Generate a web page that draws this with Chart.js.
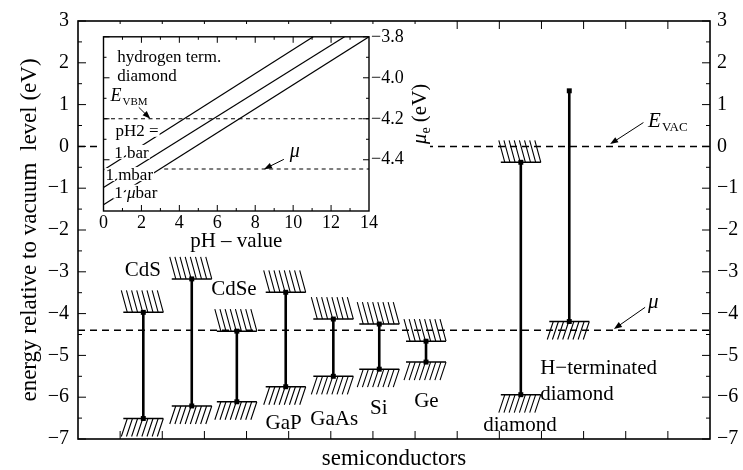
<!DOCTYPE html>
<html>
<head>
<meta charset="utf-8">
<script src="https://cdn.jsdelivr.net/npm/chart.js@4.4.0/dist/chart.umd.min.js"></script>
<style>
  html, body { margin: 0; padding: 0; background: #fff; }
  #wrap { position: relative; width: 743px; height: 470px; }
  #mainChart { position: absolute; left: 0; top: 0; }
  #insetChart { position: absolute; left: 98px; top: 24px; }
</style>
</head>
<body>
<div id="wrap">
  <canvas id="mainChart" width="743" height="470" style="width:743px;height:470px"></canvas>
  <canvas id="insetChart" width="332" height="228" style="width:332px;height:228px"></canvas>
</div>
<script>
const FONT = "'Liberation Serif', 'Times New Roman', serif";
Chart.defaults.font.family = FONT;
Chart.defaults.color = '#000';

// ===== main plot: band edges (eV vs vacuum level) =====
const semiPos = [1.55, 2.70, 3.77, 4.93, 6.06, 7.15, 8.26, 10.51, 11.66];
const condBand = [-3.97, -3.17, -4.42, -3.49, -4.13, -4.25, -4.66, -0.38, 1.33];
const valBand = [-6.51, -6.21, -6.11, -5.75, -5.50, -5.33, -5.16, -5.94, -4.19];
const condHatched = [true, true, true, true, true, true, true, true, false];
const levelVac = 0;
const levelMu = -4.4;

// material labels (data coordinates)
const labelText = ['CdS', 'CdSe', 'GaP', 'GaAs', 'Si', 'Ge', 'diamond', 'H\u2212terminated', 'diamond'];
const labelX = [1.54, 3.70, 4.88, 6.08, 7.14, 8.27, 10.49, 10.97, 10.97];
const labelY = [-2.98, -3.42, -6.63, -6.54, -6.27, -6.11, -6.68, -5.32, -5.94];
const labelAlign = ['center', 'center', 'center', 'center', 'center', 'center', 'center', 'left', 'left'];

// ===== inset: electrochemical potential vs pH =====
const phStart = [0, 0, 0];
const muStart = [-4.45, -4.535, -4.62];
const phEnd = [11.06, 12.71, 14.0];
const muEnd = [-3.8, -3.8, -3.8];
const levelVBM = -4.2;
const levelMuInset = -4.445;
const muInsetFrom = 3.2;

const insetText = ['hydrogen term.', 'diamond', 'pH2 =', '1 bar', '1 mbar', '1 \u03bcbar'];
const insetX = [0.73, 0.73, 0.63, 0.57, 0.10, 0.57];
const insetY = [-3.923, -4.014, -4.283, -4.391, -4.499, -4.585];

const minus = (s) => String(s).replace('-', '\u2212');

// ===== drawing helpers =====
function drawHatch(ctx, cx, y, up) {
  const x0 = cx - 20, w = 40, h = up ? 22 : 18, n = 8, slant = 6;
  ctx.lineWidth = 1.5;
  ctx.beginPath();
  ctx.moveTo(x0, y);
  ctx.lineTo(x0 + w, y);
  ctx.stroke();
  ctx.lineWidth = 1.1;
  ctx.beginPath();
  for (let i = 0; i < n; i++) {
    const xb = x0 + 4 + i * (w - 4) / (n - 1);
    ctx.moveTo(xb, y);
    ctx.lineTo(xb - slant, up ? y - h : y + h);
  }
  ctx.stroke();
}

function arrow(ctx, x1, y1, x2, y2) {
  const ang = Math.atan2(y2 - y1, x2 - x1), L = 8, W = 3;
  ctx.lineWidth = 1;
  ctx.beginPath();
  ctx.moveTo(x1, y1);
  ctx.lineTo(x2 - 5 * Math.cos(ang), y2 - 5 * Math.sin(ang));
  ctx.stroke();
  ctx.beginPath();
  ctx.moveTo(x2, y2);
  ctx.lineTo(x2 - L * Math.cos(ang) + W * Math.sin(ang), y2 - L * Math.sin(ang) - W * Math.cos(ang));
  ctx.lineTo(x2 - L * Math.cos(ang) - W * Math.sin(ang), y2 - L * Math.sin(ang) + W * Math.cos(ang));
  ctx.closePath();
  ctx.fill();
}

// text where μ is set in italic; optional white knock-out per word
function drawRich(ctx, str, x, y, size, knockout) {
  let cx = x;
  str.split(/( )/).forEach((word) => {
    if (!word) return;
    if (word === ' ') {
      ctx.font = size + 'px ' + FONT;
      cx += ctx.measureText(' ').width;
      return;
    }
    const parts = word.split(/(\u03bc)/).filter(Boolean);
    if (knockout) {
      let w = 0, asc = 0, desc = 0;
      parts.forEach((p) => {
        ctx.font = (p === '\u03bc' ? 'italic ' : '') + size + 'px ' + FONT;
        const m = ctx.measureText(p);
        w += m.width;
        asc = Math.max(asc, m.actualBoundingBoxAscent);
        desc = Math.max(desc, m.actualBoundingBoxDescent);
      });
      ctx.save();
      ctx.fillStyle = '#fff';
      ctx.fillRect(cx - 1, y - asc - 1, w + 2, asc + desc + 2);
      ctx.restore();
    }
    parts.forEach((p) => {
      ctx.font = (p === '\u03bc' ? 'italic ' : '') + size + 'px ' + FONT;
      ctx.fillText(p, cx, y);
      cx += ctx.measureText(p).width;
    });
  });
}

// E with a subscript
function drawSubscripted(ctx, main, sub, x, y, size, subSize, italic) {
  ctx.font = (italic ? 'italic ' : '') + size + 'px ' + FONT;
  ctx.fillText(main, x, y);
  const w = ctx.measureText(main).width;
  ctx.font = subSize + 'px ' + FONT;
  ctx.fillText(sub, x + w + 1, y + 4);
}

function drawFrame(ctx, a, xs, ys, xMajor, xMinor, yMajor, yMinor, majLen, minLen, frameW) {
  ctx.lineWidth = frameW;
  ctx.strokeRect(a.left, a.top, a.right - a.left, a.bottom - a.top);
  ctx.lineWidth = 1;
  ctx.beginPath();
  const tx = (v, len) => {
    const px = xs.getPixelForValue(v);
    ctx.moveTo(px, a.bottom); ctx.lineTo(px, a.bottom - len);
    ctx.moveTo(px, a.top); ctx.lineTo(px, a.top + len);
  };
  const ty = (v, len) => {
    const py = ys.getPixelForValue(v);
    ctx.moveTo(a.left, py); ctx.lineTo(a.left + len, py);
    ctx.moveTo(a.right, py); ctx.lineTo(a.right - len, py);
  };
  xMajor.forEach((v) => tx(v, majLen));
  xMinor.forEach((v) => tx(v, minLen));
  yMajor.forEach((v) => ty(v, majLen));
  yMinor.forEach((v) => ty(v, minLen));
  ctx.stroke();
}

const mids = (vals) => vals.slice(1).map((v, i) => (v + vals[i]) / 2);
const noGrid = { display: false, drawTicks: false, tickLength: 0 };

// ===== main chart =====
const mainDecor = {
  id: 'mainDecor',
  afterDatasetsDraw(chart) {
    const { ctx, chartArea: a, scales: { x, y } } = chart;
    ctx.save();
    ctx.strokeStyle = '#000';
    ctx.fillStyle = '#000';

    ctx.save();
    ctx.beginPath();
    ctx.rect(a.left, a.top, a.right - a.left, a.bottom - a.top);
    ctx.clip();
    semiPos.forEach((p, i) => {
      const px = x.getPixelForValue(p);
      if (condHatched[i]) drawHatch(ctx, px, y.getPixelForValue(condBand[i]), true);
      drawHatch(ctx, px, y.getPixelForValue(valBand[i]), false);
    });
    ctx.restore();

    // material names
    ctx.font = '21px ' + FONT;
    ctx.textBaseline = 'middle';
    labelText.forEach((t, i) => {
      ctx.textAlign = labelAlign[i];
      ctx.fillText(t, x.getPixelForValue(labelX[i]), y.getPixelForValue(labelY[i]));
    });

    // E_VAC and mu tags
    ctx.textAlign = 'left';
    ctx.textBaseline = 'alphabetic';
    drawSubscripted(ctx, 'E', 'VAC', x.getPixelForValue(13.53), y.getPixelForValue(0.476), 21, 13, true);
    arrow(ctx, x.getPixelForValue(13.42), y.getPixelForValue(0.571), x.getPixelForValue(12.63), y.getPixelForValue(0.055));
    ctx.font = 'italic 21px ' + FONT;
    ctx.fillText('\u03bc', x.getPixelForValue(13.53), y.getPixelForValue(-3.857));
    arrow(ctx, x.getPixelForValue(13.46), y.getPixelForValue(-3.85), x.getPixelForValue(12.72), y.getPixelForValue(-4.37));

    // frame with inward ticks
    const yMaj = y.ticks.map((t) => t.value);
    const xMaj = x.ticks.map((t) => t.value).filter((v) => v > x.min && v < x.max);
    drawFrame(ctx, a, x, y, xMaj, [], yMaj, mids(yMaj), 8, 4, 1.6);
    ctx.restore();
  },
};

const bandDatasets = semiPos.map((p, i) => ({
  data: [{ x: p, y: condBand[i] }, { x: p, y: valBand[i] }],
  showLine: true,
  borderColor: '#000',
  borderWidth: 2.6,
  pointStyle: 'rect',
  pointRadius: 3.5,
  pointBackgroundColor: '#000',
  pointBorderWidth: 0,
}));

const dashedLevel = (v, from, to, dash, width) => ({
  data: [{ x: from, y: v }, { x: to, y: v }],
  showLine: true,
  borderColor: '#000',
  borderWidth: width,
  borderDash: dash,
  pointRadius: 0,
});

const tickFont = { size: 20, family: FONT };

new Chart(document.getElementById('mainChart'), {
  type: 'scatter',
  data: {
    datasets: [
      dashedLevel(levelVac, 0, 15, [7, 5], 1.5),
      dashedLevel(levelMu, 0, 15, [7, 5], 1.5),
      ...bandDatasets,
    ],
  },
  options: {
    responsive: false,
    animation: false,
    layout: { padding: { top: 19, left: 0, right: 0, bottom: 0 } },
    plugins: { legend: { display: false }, tooltip: { enabled: false } },
    scales: {
      x: {
        type: 'linear',
        min: 0,
        max: 15,
        grid: noGrid,
        border: { display: false },
        ticks: { display: false, stepSize: 1 },
        title: { display: true, text: 'semiconductors', font: { size: 23, lineHeight: 1 }, padding: { top: 1, bottom: 0 } },
        afterFit: (s) => { s.height = 31; },
      },
      y: {
        position: 'left',
        min: -7,
        max: 3,
        grid: noGrid,
        border: { display: false },
        ticks: { stepSize: 1, padding: 9, font: tickFont, callback: (v) => minus(v) },
        title: { display: true, text: 'energy relative to vacuum  level (eV)', font: { size: 23, lineHeight: 1 }, padding: { top: 18, bottom: 0 } },
        afterFit: (s) => { s.width = 78; },
      },
      y2: {
        position: 'right',
        min: -7,
        max: 3,
        grid: noGrid,
        border: { display: false },
        ticks: { stepSize: 1, padding: 7, font: tickFont, callback: (v) => minus(v) },
        afterFit: (s) => { s.width = 33; },
      },
    },
  },
  plugins: [mainDecor],
});

// ===== inset chart =====
const insetDecor = {
  id: 'insetDecor',
  beforeDraw(chart) {
    const { ctx, width, height } = chart;
    ctx.save();
    ctx.fillStyle = '#fff';
    ctx.fillRect(0, 0, width, height);
    ctx.restore();
  },
  afterDatasetsDraw(chart) {
    const { ctx, chartArea: a, scales: { x, y2 } } = chart;
    ctx.save();
    ctx.strokeStyle = '#000';
    ctx.fillStyle = '#000';
    ctx.textAlign = 'left';
    ctx.textBaseline = 'alphabetic';

    insetText.forEach((t, i) => {
      drawRich(ctx, t, x.getPixelForValue(insetX[i]), y2.getPixelForValue(insetY[i]), 17, i >= 2);
    });

    drawSubscripted(ctx, 'E', 'VBM', x.getPixelForValue(0.37), y2.getPixelForValue(-4.115), 18, 11, true);
    arrow(ctx, x.getPixelForValue(1.86), y2.getPixelForValue(-4.144), x.getPixelForValue(2.47), y2.getPixelForValue(-4.2));
    ctx.font = 'italic 20px ' + FONT;
    ctx.fillText('\u03bc', x.getPixelForValue(9.82), y2.getPixelForValue(-4.388));
    arrow(ctx, x.getPixelForValue(9.51), y2.getPixelForValue(-4.398), x.getPixelForValue(8.46), y2.getPixelForValue(-4.446));

    const xMaj = x.ticks.map((t) => t.value);
    const yMaj = y2.ticks.map((t) => t.value);
    drawFrame(ctx, a, x, y2, xMaj.filter((v) => v > x.min && v < x.max), mids(xMaj), yMaj, mids(yMaj), 6, 3, 1.4);

    // right axis title: mu_e (eV), reading bottom to top
    ctx.save();
    ctx.translate(a.right + 50, (a.top + a.bottom) / 2 - 10);
    ctx.rotate(-Math.PI / 2);
    ctx.font = 'italic 21px ' + FONT;
    const wMu = ctx.measureText('\u03bc').width;
    ctx.font = '14px ' + FONT;
    const wE = ctx.measureText('e').width;
    ctx.font = '21px ' + FONT;
    const wRest = ctx.measureText(' (eV)').width;
    let cx = -(wMu + wE + wRest) / 2;
    ctx.font = 'italic 21px ' + FONT;
    ctx.fillText('\u03bc', cx, 7);
    cx += wMu;
    ctx.font = '14px ' + FONT;
    ctx.fillText('e', cx, 11);
    cx += wE;
    ctx.font = '21px ' + FONT;
    ctx.fillText(' (eV)', cx, 7);
    ctx.restore();

    ctx.restore();
  },
};

const phLines = phStart.map((p, i) => ({
  data: [{ x: p, y: muStart[i] }, { x: phEnd[i], y: muEnd[i] }],
  showLine: true,
  borderColor: '#000',
  borderWidth: 1.2,
  pointRadius: 0,
}));

const insetTicks = { size: 18, family: FONT };

new Chart(document.getElementById('insetChart'), {
  type: 'scatter',
  data: {
    datasets: [
      { ...dashedLevel(levelVBM, 0, 14, [4, 3.5], 1.1), yAxisID: 'y2' },
      { ...dashedLevel(levelMuInset, muInsetFrom, 14, [4, 3.5], 1.1), yAxisID: 'y2' },
      ...phLines.map((d) => ({ ...d, yAxisID: 'y2' })),
    ],
  },
  options: {
    responsive: false,
    animation: false,
    layout: { padding: { top: 9, left: 0, right: 0, bottom: 0 } },
    plugins: { legend: { display: false }, tooltip: { enabled: false } },
    scales: {
      x: {
        type: 'linear',
        min: 0,
        max: 14,
        grid: noGrid,
        border: { display: false },
        ticks: { stepSize: 2, padding: 1, font: insetTicks, maxRotation: 0 },
        title: { display: true, text: 'pH \u2013 value', font: { size: 21, lineHeight: 1 }, padding: { top: 13, bottom: 0 } },
        afterFit: (s) => { s.height = 41; },
      },
      y: {
        position: 'left',
        min: -4.65,
        max: -3.8,
        grid: noGrid,
        border: { display: false },
        ticks: { display: false },
        afterFit: (s) => { s.width = 3; },
      },
      y2: {
        position: 'right',
        min: -4.65,
        max: -3.8,
        grid: noGrid,
        border: { display: false },
        ticks: { stepSize: 0.2, padding: 2, font: insetTicks, callback: (v) => minus(v.toFixed(1)) },
        afterBuildTicks: (s) => {
          s.ticks = s.ticks.filter((t) => Math.abs(t.value * 5 - Math.round(t.value * 5)) < 1e-6);
        },
        afterFit: (s) => { s.width = 61; },
      },
    },
  },
  plugins: [insetDecor],
});
</script>
</body>
</html>
